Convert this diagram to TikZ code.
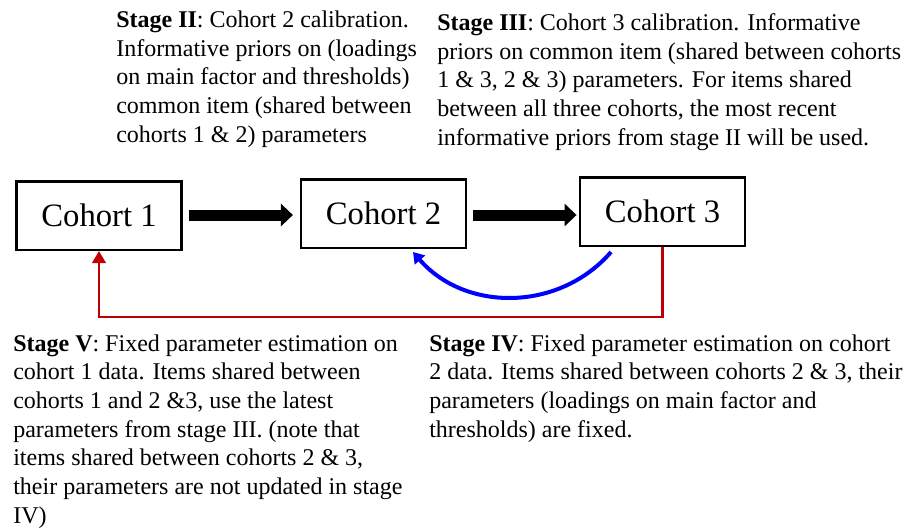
\documentclass[tikz,border=0pt]{standalone}
\usepackage{fontspec}
\setmainfont{Liberation Serif}
\usetikzlibrary{arrows.meta}
\definecolor{darkred}{RGB}{192,0,0}
\definecolor{pureblue}{RGB}{0,0,255}
\tikzset{
  cohortbox/.style={draw=black, line width=1.9pt, minimum width=124pt, minimum height=51.4pt, inner sep=0pt,
    font=\fontsize{24.5pt}{28pt}\selectfont},
  stagetext/.style={anchor=base west, align=left, inner sep=0pt,
    font=\fontsize{18pt}{21.5pt}\selectfont},
  bigarrow/.style={line width=8.25pt, -{Triangle[width=16.5pt,length=9pt]}},
  redline/.style={draw=darkred, line width=2.1pt, -{Triangle[width=10pt,length=9pt]}},
  bluearc/.style={draw=pureblue, line width=3pt, -{Triangle[width=10pt,length=8pt]}}
}
\begin{document}
\begin{tikzpicture}[x=0.75pt,y=-0.75pt]
\useasboundingbox (0,0) rectangle (906,529);
\node[cohortbox] (c1) at (99,215.5) {Cohort 1};
\node[cohortbox] (c2) at (383.5,213.5) {Cohort 2};
\node[cohortbox] (c3) at (662.5,211.5) {Cohort 3};

\draw[bigarrow] ([xshift=4.5pt]c1.east |- 0,215) -- ([xshift=-5pt]c2.west |- 0,215);
\draw[bigarrow] ([xshift=4.5pt]c2.east |- 0,215) -- ([xshift=-1.5pt]c3.west |- 0,215);

\coordinate (rb) at (0,317);
\draw[redline] (c3.south) -- (c3.south |- rb) -| (c1.south);

\coordinate (bs) at (611,252);
\coordinate (be) at (413,252);
\draw[bluearc] (bs) .. controls (559,312) and (465,312) .. (be);

% base anchor = baseline of the last line
\node[stagetext] (s2) at (116,142) {\textbf{Stage II}: Cohort 2 calibration.\\
Informative priors on (loadings\\
on main factor and thresholds)\\
common item (shared between\\
cohorts 1 \& 2) parameters};

\node[stagetext] (s3) at (437,145) {\textbf{Stage III}: Cohort 3 calibration. Informative\\
priors on common item (shared between cohorts\\
1 \& 3, 2 \& 3) parameters. For items shared\\
between all three cohorts, the most recent\\
informative priors from stage II will be used.};

\node[stagetext] (s5) at (13,523) {\textbf{Stage V}: Fixed parameter estimation on\\
cohort 1 data. Items shared between\\
cohorts 1 and 2 \&3, use the latest\\
parameters from stage III. (note that\\
items shared between cohorts 2 \& 3,\\
their parameters are not updated in stage\\
IV)};

\node[stagetext] (s4) at (429,437) {\textbf{Stage IV}: Fixed parameter estimation on cohort\\
2 data. Items shared between cohorts 2 \& 3, their\\
parameters (loadings on main factor and\\
thresholds) are fixed.};
\end{tikzpicture}
\end{document}
